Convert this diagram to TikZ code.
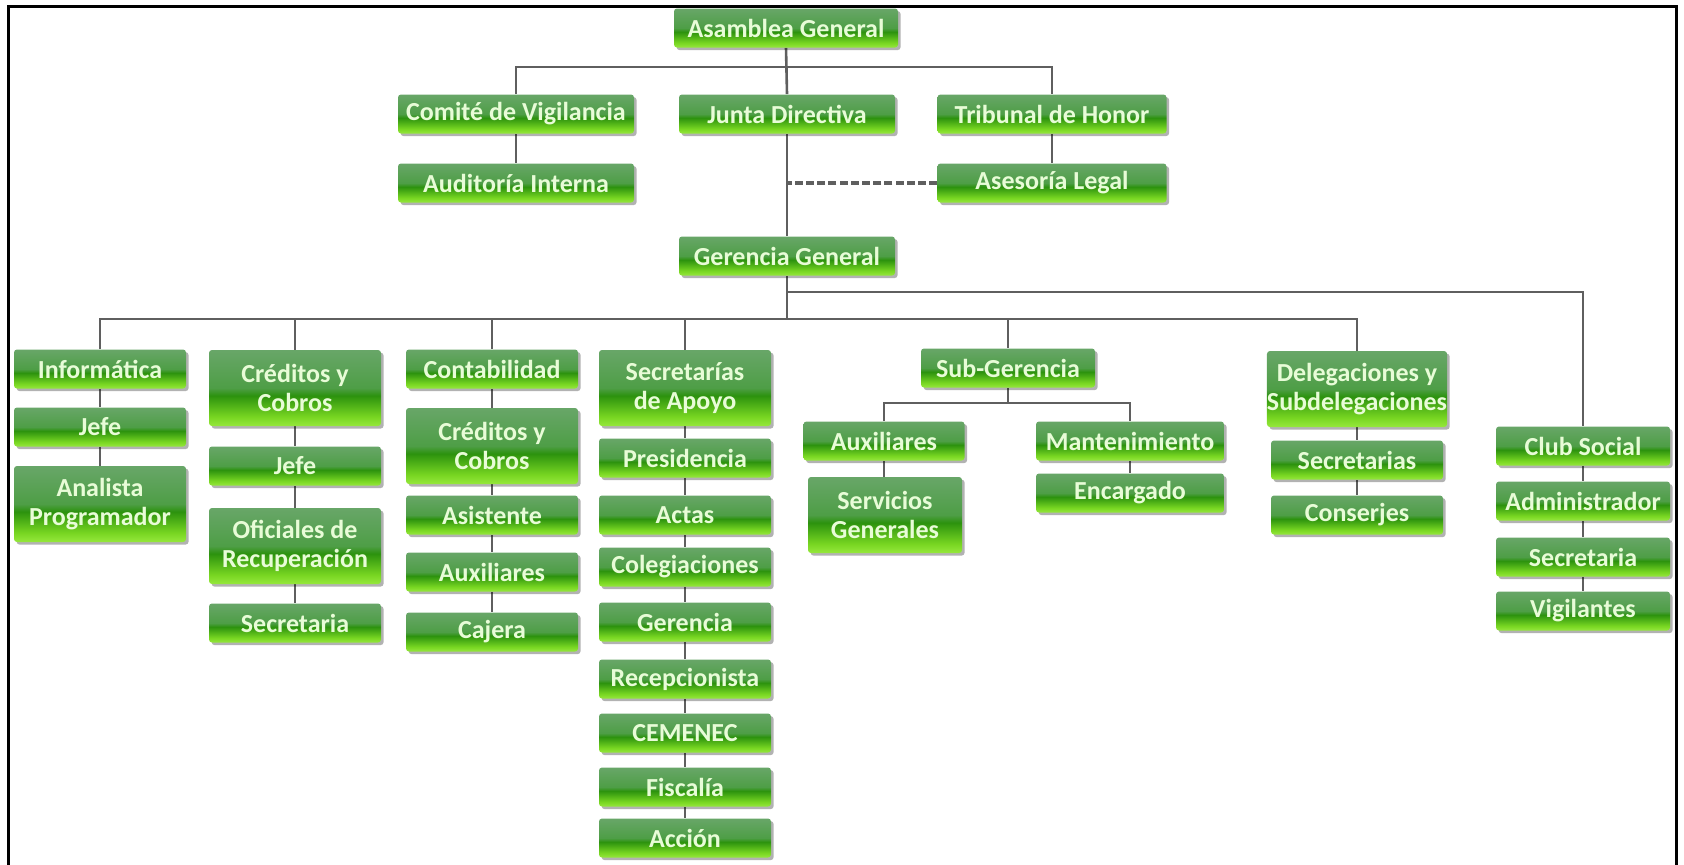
\documentclass[tikz,border=0pt]{standalone}
\usepackage{fontspec}
\setmainfont{Carlito}
\usetikzlibrary{shadows,backgrounds}
\definecolor{gtop}{RGB}{104,166,104}
\definecolor{gmid}{RGB}{78,158,70}
\definecolor{gdark}{RGB}{44,146,14}
\definecolor{glime}{RGB}{120,214,34}
\definecolor{gbot}{RGB}{150,232,60}
\definecolor{txtc}{RGB}{232,252,215}
\definecolor{linc}{RGB}{95,95,95}
\pgfdeclareverticalshading{gbox}{100bp}{color(0bp)=(gbot); color(25bp)=(gbot); color(31bp)=(glime); color(45bp)=(gdark); color(50bp)=(gmid); color(75bp)=(gtop); color(100bp)=(gtop)}
\tikzset{
  box/.style={rectangle, rounded corners=1.5pt, shading=gbox, draw=none,
    drop shadow={shadow xshift=1.3pt, shadow yshift=-1.3pt, fill=black, opacity=0.3},
    text=txtc, font=\bfseries\fontsize{13}{14.5}\selectfont, align=center,
    inner sep=0pt, minimum width=86pt, minimum height=19.5pt},
  two/.style={minimum height=38pt},
  conn/.style={draw=linc, line width=1.3pt},
  dconn/.style={draw=linc, line width=1.6pt, dash pattern=on 4pt off 1.6pt},
  frame/.style={draw=black, line width=1.5pt}
}
\begin{document}
\begin{tikzpicture}[x=0.5pt, y=-0.5pt]
\useasboundingbox (0,0) rectangle (1684,864);
\draw[frame] (8,866) -- (8,6) -- (1676,6) -- (1676,866);

% top levels
\node[box, minimum width=112pt] (ag) at (786,28) {Asamblea General};
\node[box, minimum width=118pt] (cv) at (516,114) {Comité de Vigilancia};
\node[box, minimum width=108pt] (jd) at (787,114) {Junta Directiva};
\node[box, minimum width=114.5pt] (th) at (1052,114) {Tribunal de Honor};
\node[box, minimum width=118pt] (ai) at (516,183) {Auditoría Interna};
\node[box, minimum width=114.5pt] (al) at (1052,183) {Asesoría Legal};
\node[box, minimum width=108pt] (gg) at (787,256) {Gerencia General};

% column 1
\node[box] (inf) at (100,369) {Informática};
\node[box] (jefe1) at (100,427) {Jefe};
\node[box, two] (ana) at (100,504) {Analista\\Programador};
% column 2
\node[box, two] (cyc) at (295,388) {Créditos y\\Cobros};
\node[box] (jefe2) at (295,466) {Jefe};
\node[box, two] (ofi) at (295,546) {Oficiales de\\Recuperación};
\node[box] (sec2) at (295,623) {Secretaria};
% column 3
\node[box] (con) at (492,369) {Contabilidad};
\node[box, two] (cyc3) at (492,446) {Créditos y\\Cobros};
\node[box] (asi) at (492,515) {Asistente};
\node[box] (aux3) at (492,572) {Auxiliares};
\node[box] (caj) at (492,632) {Cajera};
% column 4
\node[box, two] (sa) at (685,388) {Secretarías\\de Apoyo};
\node[box] (pre) at (685,458) {Presidencia};
\node[box] (act) at (685,515) {Actas};
\node[box] (col) at (685,567) {Colegiaciones};
\node[box] (ger) at (685,622) {Gerencia};
\node[box] (rec) at (685,679) {Recepcionista};
\node[box] (cem) at (685,733) {CEMENEC};
\node[box] (fis) at (685,787) {Fiscalía};
\node[box] (acc) at (685,838) {Acción};
% column 5
\node[box, minimum width=87pt] (sg) at (1008,368) {Sub-Gerencia};
\node[box, minimum width=80.5pt] (aux5) at (884,441) {Auxiliares};
\node[box, two, minimum width=77pt] (sgen) at (885,515) {Servicios\\Generales};
\node[box, minimum width=94pt] (man) at (1130,441) {Mantenimiento};
\node[box, minimum width=94pt] (enc) at (1130,493) {Encargado};
% column 6
\node[box, two, minimum width=88pt] (del) at (1357,389) {Delegaciones y\\Subdelegaciones};
\node[box] (sec6) at (1357,460) {Secretarias};
\node[box] (cons) at (1357,515) {Conserjes};
% column 7
\node[box, minimum width=87pt] (club) at (1583,446) {Club Social};
\node[box, minimum width=87pt] (adm) at (1583,501) {Administrador};
\node[box, minimum width=87pt] (sec7) at (1583,557) {Secretaria};
\node[box, minimum width=87pt] (vig) at (1583,611) {Vigilantes};

\coordinate (b1) at (786,67);
\coordinate (b2) at (786,292);
\coordinate (b3) at (786,319);
\coordinate (b5) at (1008,403);

\begin{pgfonlayer}{background}
\draw[conn] (ag.south) -- (jd.north);
\draw[conn] (cv.north) -- (cv.north |- b1) -- (th.north |- b1) -- (th.north);
\draw[conn] (cv.south) -- (ai.north);
\draw[conn] (th.south) -- (al.north);
\draw[conn] (jd.south) -- (gg.north);
\draw[dconn] (al.west) -- (al.west -| jd.south);
\draw[conn] (gg.south) -- (gg.south |- b3);
\draw[conn] (gg.south |- b2) -- (club.north |- b2) -- (club.north);
\draw[conn] (inf.north) -- (inf.north |- b3) -- (del.north |- b3) -- (del.north);
\draw[conn] (cyc.north |- b3) -- (cyc.north);
\draw[conn] (con.north |- b3) -- (con.north);
\draw[conn] (sa.north |- b3) -- (sa.north);
\draw[conn] (sg.north |- b3) -- (sg.north);
% chains
\draw[conn] (inf.south) -- (jefe1.north);
\draw[conn] (jefe1.south) -- (ana.north);
\draw[conn] (cyc.south) -- (jefe2.north);
\draw[conn] (jefe2.south) -- (ofi.north);
\draw[conn] (ofi.south) -- (sec2.north);
\draw[conn] (con.south) -- (cyc3.north);
\draw[conn] (cyc3.south) -- (asi.north);
\draw[conn] (asi.south) -- (aux3.north);
\draw[conn] (aux3.south) -- (caj.north);
\draw[conn] (sa.south) -- (pre.north);
\draw[conn] (pre.south) -- (act.north);
\draw[conn] (act.south) -- (col.north);
\draw[conn] (col.south) -- (ger.north);
\draw[conn] (ger.south) -- (rec.north);
\draw[conn] (rec.south) -- (cem.north);
\draw[conn] (cem.south) -- (fis.north);
\draw[conn] (fis.south) -- (acc.north);
\draw[conn] (sg.south) -- (b5);
\draw[conn] (aux5.north) -- (aux5.north |- b5) -- (man.north |- b5) -- (man.north);
\draw[conn] (aux5.south) -- (aux5.south |- sgen.north);
\draw[conn] (man.south) -- (enc.north);
\draw[conn] (del.south) -- (sec6.north);
\draw[conn] (sec6.south) -- (cons.north);
\draw[conn] (club.south) -- (adm.north);
\draw[conn] (adm.south) -- (sec7.north);
\draw[conn] (sec7.south) -- (vig.north);
\end{pgfonlayer}
\end{tikzpicture}
\end{document}
